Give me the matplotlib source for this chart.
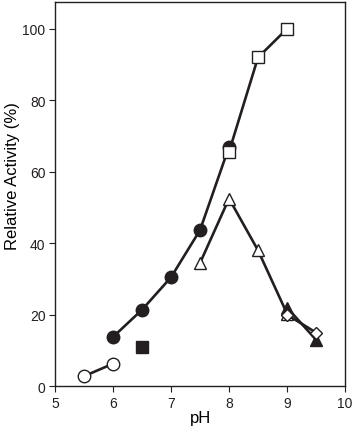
import matplotlib
matplotlib.use("Agg")
import matplotlib.pyplot as plt

plt.rcParams['font.family'] = ['Liberation Sans', 'DejaVu Sans']

# data
ph_open_circle = [5.5, 6.0]
act_open_circle = [2.8, 6.3]

ph_filled_circle = [6.0, 6.5, 7.0, 7.5, 8.0]
act_filled_circle = [13.8, 21.4, 30.5, 43.7, 67.0]

ph_open_square = [8.0, 8.5, 9.0]
act_open_square = [65.6, 92.0, 100.0]

ph_filled_square = [6.5]
act_filled_square = [10.9]

ph_open_tri = [7.5, 8.0, 8.5, 9.0]
act_open_tri = [34.5, 52.5, 38.0, 20.3]

ph_filled_tri = [9.0, 9.5]
act_filled_tri = [22.0, 13.0]

ph_diamond = [9.0, 9.5]
act_diamond = [20.0, 15.0]

fig = plt.figure(figsize=(3.56, 4.35), dpi=100)
ax = fig.add_axes([0.155, 0.110, 0.814, 0.883])

lw = 1.9
k = '#231f20'
ax.plot(ph_filled_circle, act_filled_circle, '-', color=k, lw=lw,
        marker='o', ms=9, mfc=k, mec=k, zorder=3)
ax.plot(ph_open_square, act_open_square, '-', color=k, lw=lw,
        marker='s', ms=8, mfc='white', mec=k, mew=1.0, zorder=4)
ax.plot(ph_open_circle, act_open_circle, '-', color=k, lw=lw,
        marker='o', ms=9, mfc='white', mec=k, mew=1.0, zorder=3)
ax.plot(ph_filled_square, act_filled_square, linestyle='none',
        marker='s', ms=8, mfc=k, mec=k, zorder=3)
ax.plot(ph_open_tri, act_open_tri, '-', color=k, lw=lw,
        marker='^', ms=9, mfc='white', mec=k, mew=1.0, zorder=3)
ax.plot(ph_filled_tri, act_filled_tri, '-', color=k, lw=lw,
        marker='^', ms=9, mfc=k, mec=k, zorder=4)
ax.plot(ph_diamond, act_diamond, '-', color=k, lw=lw,
        marker='D', ms=6, mfc='white', mec=k, mew=1.0, zorder=5)

ax.set_xlim(5, 10)
ax.set_ylim(0, 107.5)
ax.set_xticks([5, 6, 7, 8, 9, 10])
ax.set_yticks([0, 20, 40, 60, 80, 100])
ax.tick_params(labelsize=10, length=4, width=0.8, colors=k, pad=3)
for s in ax.spines.values():
    s.set_linewidth(1.0)
    s.set_color(k)

ax.set_xlabel('pH', fontsize=12, labelpad=0)
ax.set_ylabel('Relative Activity (%)', fontsize=12)
ax.yaxis.set_label_coords(-0.12, 0.55)

fig.savefig('out.png', dpi=100)
